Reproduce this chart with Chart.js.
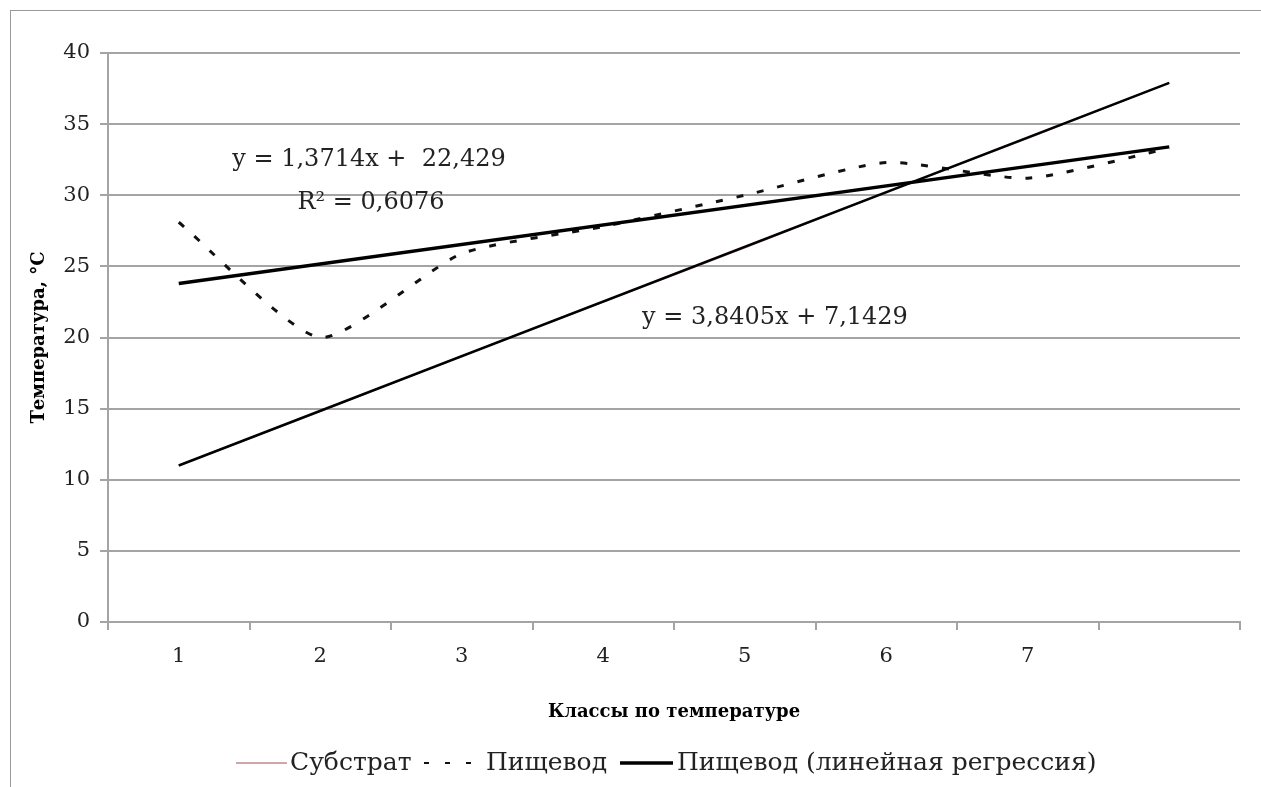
<!DOCTYPE html>
<html>
<head>
<meta charset="utf-8">
<script src="https://cdn.jsdelivr.net/npm/chart.js@4.4.0/dist/chart.umd.min.js"></script>
<style>
  html, body { margin: 0; padding: 0; background: #fff; }
  #wrap { position: relative; width: 1261px; height: 787px; overflow: hidden; }
  #frame { position: absolute; left: 10px; top: 10px; width: 1260px; height: 800px; border: 1px solid #9a9a9a; box-sizing: border-box; }
  canvas { position: absolute; left: 0; top: 0; }
</style>
</head>
<body>
<div id="wrap">
  <div id="frame"></div>
  <canvas id="tempChart" width="1261" height="787"></canvas>
</div>
<script>
// classes on the x axis (8th slot has no label)
const classes = ['1', '2', '3', '4', '5', '6', '7', ''];

// series
const substrate = [11.0, 14.8, 18.7, 22.5, 26.3, 30.2, 34.0, 37.9];
const esophagus = [28.1, 20.0, 25.9, 27.8, 30.0, 32.3, 31.2, 33.3];
const esophagusTrend = [23.8, null, null, null, null, null, null, 33.4];
const substrateTrend = [11.0, null, null, null, null, null, null, 37.9];

const yMin = 0;
const yMax = 40;
const yStep = 5;

const legendNames = ['Субстрат', 'Пищевод', 'Пищевод (линейная регрессия)'];
const equations = ['y = 1,3714x +  22,429', 'R² = 0,6076', 'y = 3,8405x + 7,1429'];

const gray = '#a4a4a4';
const serif = 'DejaVu Serif';

// equation labels and the legend are drawn by hand, Excel style
const extrasPlugin = {
    id: 'extras',
    afterDraw(chart) {
        const ctx = chart.ctx;
        ctx.save();
        ctx.fillStyle = '#222';
        ctx.font = '24px "' + serif + '"';
        ctx.textAlign = 'center';
        ctx.textBaseline = 'middle';
        ctx.fillText(equations[0], 369, 160);
        ctx.fillText(equations[1], 371, 203);
        ctx.fillText(equations[2], 775, 318);

        // legend
        const ly = 763;
        ctx.textAlign = 'left';
        ctx.font = '25px "' + serif + '"';

        ctx.strokeStyle = '#c08a8a';
        ctx.lineWidth = 1.5;
        ctx.beginPath(); ctx.moveTo(236, ly); ctx.lineTo(287, ly); ctx.stroke();
        ctx.fillText(legendNames[0], 290, ly);

        ctx.strokeStyle = '#111';
        ctx.lineWidth = 2;
        ctx.setLineDash([5, 16]);
        ctx.beginPath(); ctx.moveTo(424, ly); ctx.lineTo(476, ly); ctx.stroke();
        ctx.setLineDash([]);
        ctx.fillText(legendNames[1], 486, ly);

        ctx.strokeStyle = '#000';
        ctx.lineWidth = 3.5;
        ctx.beginPath(); ctx.moveTo(620, ly); ctx.lineTo(673, ly); ctx.stroke();
        ctx.fillText(legendNames[2], 677, ly);
        ctx.restore();
    }
};

const ctx = document.getElementById('tempChart').getContext('2d');
new Chart(ctx, {
    type: 'line',
    data: {
        labels: classes,
        datasets: [
            {
                label: legendNames[0],
                data: substrate,
                borderColor: '#c08a8a',
                borderWidth: 1.5,
                pointRadius: 0,
                tension: 0,
                order: 10
            },
            {
                label: legendNames[1],
                data: esophagus,
                borderColor: '#111',
                borderWidth: 3,
                borderDash: [7, 14],
                pointRadius: 0,
                tension: 0.2,
                order: 2
            },
            {
                label: legendNames[2],
                data: esophagusTrend,
                borderColor: '#000',
                borderWidth: 3.5,
                pointRadius: 0,
                spanGaps: true,
                order: 1
            },
            {
                label: 'Субстрат (тренд)',
                data: substrateTrend,
                borderColor: '#000',
                borderWidth: 2.5,
                pointRadius: 0,
                spanGaps: true,
                order: 1
            }
        ]
    },
    options: {
        responsive: false,
        animation: false,
        devicePixelRatio: 1,
        layout: { padding: { top: 53, right: 21, left: 0, bottom: 0 } },
        plugins: {
            legend: { display: false },
            tooltip: { enabled: false }
        },
        scales: {
            x: {
                offset: true,
                grid: { offset: true, drawOnChartArea: false, color: gray, lineWidth: 2, tickLength: 8 },
                border: { color: gray, width: 2 },
                ticks: { font: { family: serif, size: 21 }, color: '#222', padding: 14, maxRotation: 0, autoSkip: false },
                title: {
                    display: true,
                    text: 'Классы по температуре',
                    font: { family: serif, size: 18, weight: 'bold' },
                    color: '#000',
                    padding: { top: 0, bottom: 64 }
                },
                afterFit(scale) { scale.height = 165; }
            },
            y: {
                min: yMin,
                max: yMax,
                ticks: { stepSize: yStep, font: { family: serif, size: 21 }, color: '#222', padding: 10 },
                grid: { color: gray, lineWidth: 2, tickLength: 8 },
                border: { color: gray, width: 2 },
                title: {
                    display: true,
                    text: 'Температура, °С',
                    font: { family: serif, size: 18, weight: 'bold' },
                    color: '#000',
                    padding: { top: 29, bottom: 0 }
                },
                afterFit(scale) { scale.width = 108; }
            }
        }
    },
    plugins: [extrasPlugin]
});
</script>
</body>
</html>
